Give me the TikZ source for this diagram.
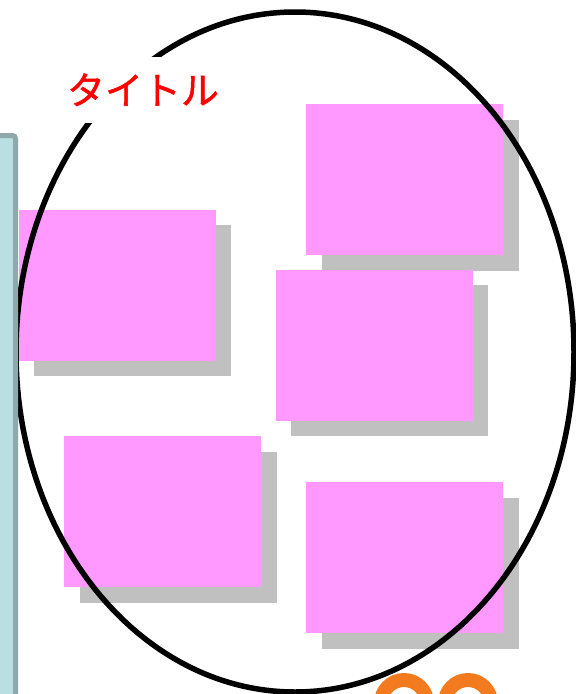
\documentclass[tikz,border=0pt]{standalone}
\usepackage{fontspec}
\newfontfamily\cjk[FakeBold=1.2]{Noto Sans CJK JP}
\usetikzlibrary{shadows}
\definecolor{notepink}{HTML}{FF99FF}
\definecolor{notegray}{HTML}{C0C0C0}
\definecolor{barfill}{HTML}{B9DFE3}
\definecolor{barline}{HTML}{8FA8A9}
\definecolor{ringorange}{HTML}{F47A20}
\tikzset{
  note/.style={anchor=north west, fill=notepink, minimum width=197pt, minimum height=151pt, inner sep=0pt,
    drop shadow={shadow xshift=15.5pt, shadow yshift=-15.5pt, fill=notegray, opacity=1}},
  titlebox/.style={fill=white, text=red, font=\cjk\fontsize{38}{38}\selectfont, inner sep=0pt,
    text height=33.4pt, text depth=4.6pt, minimum width=166pt, minimum height=66pt},
  ring/.style={draw=ringorange, line width=14pt}
}
\begin{document}
\begin{tikzpicture}[x=1pt,y=-1pt]
\useasboundingbox (0,0) rectangle (576,694);
\fill[white] (0,0) rectangle (576,694);
\node[note] (n1) at (306,104) {};
\node[note] (n2) at (18.7,209.7) {};
\node[note] (n3) at (275.7,269.7) {};
\node[note] (n4) at (64,436) {};
\node[note] (n5) at (306,482) {};
\draw[line width=5.5pt] (295,352) ellipse [x radius=279pt, y radius=340pt];
\node[titlebox] (title) at (143,90) {タイトル};
\draw[fill=barfill, draw=barline, line width=5pt, rounded corners=3pt] (-20,135.5) rectangle (15.5,720);
\draw[ring] (404,703) circle[radius=23pt];
\draw[ring] (468,703) circle[radius=23pt];
\end{tikzpicture}
\end{document}
